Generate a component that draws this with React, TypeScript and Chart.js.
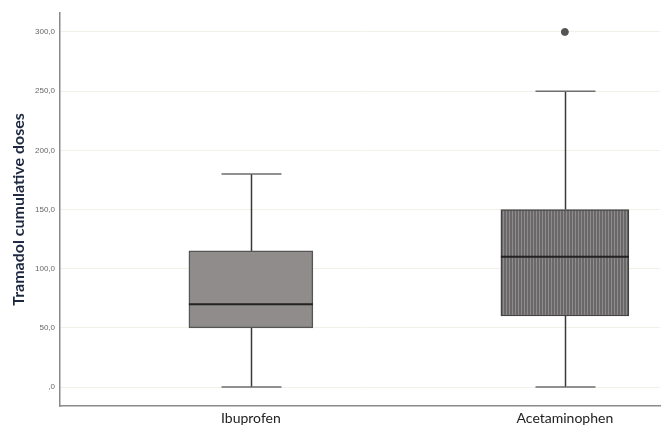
import React, { useEffect, useRef } from "react";
import { Chart, registerables } from "chart.js";

Chart.register(...registerables);

const categories = ["Ibuprofen", "Acetaminophen"];
const mins = [0, 0];
const q1s = [50, 60];
const medians = [70, 110];
const q3s = [115, 150];
const maxs = [180, 250];
const outliers = [[], [300]];
const yTicks = [0, 50, 100, 150, 200, 250, 300];

function makePattern(): CanvasPattern | string {
  const c = document.createElement("canvas");
  c.width = 3;
  c.height = 4;
  const ctx = c.getContext("2d");
  if (!ctx) return "#747272";
  ctx.fillStyle = "#6a6868";
  ctx.fillRect(0, 0, 3, 4);
  ctx.fillStyle = "#8e8c8c";
  ctx.fillRect(2, 0, 1, 4);
  return ctx.createPattern(c, "repeat") || "#747272";
}

const boxPlugin = {
  id: "boxWhiskers",
  beforeDatasetsDraw(chart: any) {
    const { ctx, scales } = chart;
    const xs = scales.x;
    const ys = scales.y;
    ctx.save();
    categories.forEach((_, i) => {
      const cx = Math.round(xs.getPixelForValue(i)) + 0.5;
      const capHalf = 30;
      const yMin = ys.getPixelForValue(mins[i]);
      const yMax = ys.getPixelForValue(maxs[i]);
      const yQ1 = ys.getPixelForValue(q1s[i]);
      const yQ3 = ys.getPixelForValue(q3s[i]);
      ctx.strokeStyle = "#3a3a3a";
      ctx.lineWidth = 1.5;
      ctx.beginPath();
      ctx.moveTo(cx, yMax);
      ctx.lineTo(cx, yQ3);
      ctx.moveTo(cx, yQ1);
      ctx.lineTo(cx, yMin);
      ctx.stroke();
      ctx.strokeStyle = "#6e6e6e";
      ctx.lineWidth = 1.5;
      ctx.beginPath();
      ctx.moveTo(cx - capHalf, yMax);
      ctx.lineTo(cx + capHalf, yMax);
      ctx.moveTo(cx - capHalf, yMin);
      ctx.lineTo(cx + capHalf, yMin);
      ctx.stroke();
    });
    ctx.restore();
  },
  afterDatasetsDraw(chart: any) {
    const { ctx, scales } = chart;
    const xs = scales.x;
    const ys = scales.y;
    ctx.save();
    categories.forEach((_, i) => {
      const meta = chart.getDatasetMeta(i);
      const bar = meta.data[0];
      if (!bar) return;
      const half = bar.width / 2;
      const cx = xs.getPixelForValue(i);
      const ym = ys.getPixelForValue(medians[i]);
      ctx.strokeStyle = "#222222";
      ctx.lineWidth = 2;
      ctx.beginPath();
      ctx.moveTo(cx - half, ym);
      ctx.lineTo(cx + half, ym);
      ctx.stroke();
    });
    ctx.restore();
  },
};

export default function App() {
  const ref = useRef<HTMLCanvasElement>(null);
  useEffect(() => {
    if (!ref.current) return;
    const pattern = makePattern();
    const outlierPoints: { x: number; y: number }[] = [];
    outliers.forEach((arr, i) => arr.forEach((v) => outlierPoints.push({ x: i, y: v })));
    const chart = new Chart(ref.current, {
      type: "bar",
      data: {
        datasets: [
          {
            label: categories[0],
            data: [{ x: 0, y: [q1s[0], q3s[0]] }] as any,
            backgroundColor: "#8f8c8b",
            borderColor: "#555555",
            borderWidth: 1.5,
            borderSkipped: false,
            barThickness: 124,
            grouped: false,
          } as any,
          {
            label: categories[1],
            data: [{ x: 1, y: [q1s[1], q3s[1]] }] as any,
            backgroundColor: pattern as any,
            borderColor: "#444444",
            borderWidth: 1.5,
            borderSkipped: false,
            barThickness: 128,
            grouped: false,
          } as any,
          {
            type: "scatter",
            label: "Outliers",
            data: outlierPoints,
            backgroundColor: "#555555",
            borderColor: "#555555",
            pointRadius: 3.5,
          } as any,
        ],
      },
      options: {
        animation: false,
        responsive: false,
        maintainAspectRatio: false,
        layout: { padding: { top: 13, right: 5, left: 0, bottom: 0 } },
        plugins: { legend: { display: false }, tooltip: { enabled: false } },
        scales: {
          x: {
            type: "linear",
            min: -0.608,
            max: 1.303,
            offset: false,
            grid: { display: false, drawTicks: false, offset: false },
            border: { display: true, color: "#8a8a8a", width: 1.5 },
            afterBuildTicks: (scale: any) => {
              scale.ticks = categories.map((_, i) => ({ value: i }));
            },
            afterFit: (scale: any) => {
              scale.height = 24;
            },
            ticks: {
              padding: 4,
              color: "#222222",
              font: { family: "Lato", size: 14 },
              callback: (v: any) => categories[v] ?? "",
            },
          },
          y: {
            type: "linear",
            min: -16,
            max: 316,
            afterBuildTicks: (scale: any) => {
              scale.ticks = yTicks.map((v) => ({ value: v }));
            },
            afterFit: (scale: any) => {
              scale.width = 60;
            },
            grid: { color: "#f1f1e8", drawTicks: false, lineWidth: 1 },
            border: { display: true, color: "#8a8a8a", width: 1.5 },
            ticks: {
              padding: 5,
              color: "#666666",
              font: { family: "Liberation Sans", size: 8 },
              callback: (v: any) =>
                v === 0 ? ",0" : Number(v).toFixed(1).replace(".", ","),
            },
            title: {
              display: true,
              text: "Tramadol cumulative doses",
              color: "#1c2740",
              font: { family: "Lato", size: 16, weight: "bold" },
              padding: { top: 9, bottom: 0 },
            },
          },
        },
      },
      plugins: [boxPlugin],
    });
    return () => chart.destroy();
  }, []);
  return (
    <div style={{ position: "fixed", left: 0, top: 0, width: 665, height: 430, background: "#ffffff" }}>
      <canvas ref={ref} width={665} height={430} style={{ width: 665, height: 430 }} />
    </div>
  );
}
